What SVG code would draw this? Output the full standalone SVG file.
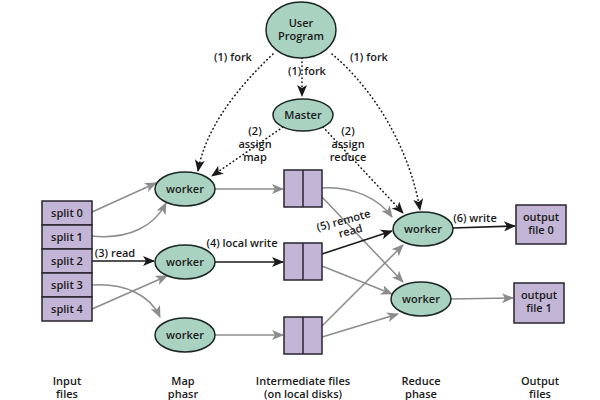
<svg xmlns="http://www.w3.org/2000/svg" width="600" height="400" viewBox="0 0 600 400">
<defs>
<style>
.n{fill:#a9d2c1;stroke:#1c2624;stroke-width:1.5}
.b{fill:#c3b5d6;stroke:#2a2530;stroke-width:1.5}
.t{font-family:"Open Sans","Liberation Sans",sans-serif;font-weight:600;font-size:11px;fill:#1a1a1a;text-anchor:middle}
.g{fill:none;stroke:#8c8c8c;stroke-width:1.5}
.k{fill:none;stroke:#1a1a1a;stroke-width:1.6}
.d{fill:none;stroke:#1a1a1a;stroke-width:1.6;stroke-dasharray:0.5 3.5;stroke-linecap:round}
</style>
<marker id="ag" viewBox="0 0 12 10" refX="11" refY="5" markerWidth="12" markerHeight="10" markerUnits="userSpaceOnUse" orient="auto"><path d="M0,0 L12,5 L0,10 L3,5 z" fill="#8c8c8c"/></marker>
<marker id="ak" viewBox="0 0 12 10" refX="11" refY="5" markerWidth="13" markerHeight="10" markerUnits="userSpaceOnUse" orient="auto"><path d="M0,0 L12,5 L0,10 L3,5 z" fill="#1a1a1a"/></marker>
</defs>
<rect width="600" height="400" fill="#ffffff"/>

<g id="connectors">
<path class="d" d="M302,58 L302,96" marker-end="url(#ak)"/>
<path class="d" d="M273,54 C235,90 205,130 198,171" marker-end="url(#ak)"/>
<path class="d" d="M332,54 C375,90 410,150 420,210" marker-end="url(#ak)"/>
<path class="d" d="M283,127 L212,176" marker-end="url(#ak)"/>
<path class="d" d="M323,127 L403,213" marker-end="url(#ak)"/>

<path class="g" d="M92,212 L156,183" marker-end="url(#ag)"/>
<path class="g" d="M92,236 C130,240 155,225 166,203" marker-end="url(#ag)"/>
<path class="k" d="M92,261 L154,261" marker-end="url(#ak)"/>
<path class="g" d="M92,285 C125,283 150,295 160,317" marker-end="url(#ag)"/>
<path class="g" d="M92,309 L167,276" marker-end="url(#ag)"/>

<path class="g" d="M215,189 L283,189" marker-end="url(#ag)"/>
<path class="k" d="M215,262 L283,262" marker-end="url(#ak)"/>
<path class="g" d="M214,335 L283,335" marker-end="url(#ag)"/>

<path class="g" d="M322,188 C355,186 380,200 392,217" marker-end="url(#ag)"/>
<path class="g" d="M322,197 L403,282" marker-end="url(#ag)"/>
<path class="k" d="M322,254 L392,231" marker-end="url(#ak)"/>
<path class="g" d="M322,266 L392,294" marker-end="url(#ag)"/>
<path class="g" d="M322,326 L403,245" marker-end="url(#ag)"/>
<path class="g" d="M322,337 L398,314" marker-end="url(#ag)"/>

<path class="k" d="M453,228 L515,226" marker-end="url(#ak)"/>
<path class="g" d="M451,299 L513,298" marker-end="url(#ag)"/>
</g>

<g id="labels">
<text class="t" x="233" y="61">(1) fork</text>
<text class="t" x="369" y="61">(1) fork</text>
<text class="t" x="307" y="75">(1) fork</text>
<text class="t" x="255" y="135">(2)</text>
<text class="t" x="255" y="148">assign</text>
<text class="t" x="255" y="161">map</text>
<text class="t" x="348" y="135">(2)</text>
<text class="t" x="348" y="148">assign</text>
<text class="t" x="348" y="161">reduce</text>
<text class="t" x="115" y="257">(3) read</text>
<text class="t" x="242" y="247">(4) local write</text>
<g transform="rotate(-15 345 226)"><text class="t" x="345" y="224">(5) remote</text><text class="t" x="349" y="236">read</text></g>
<text class="t" x="475" y="222">(6) write</text>
</g>

<g id="user-program"><ellipse class="n" cx="301" cy="30" rx="35" ry="28"/><text class="t" x="301" y="27">User</text><text class="t" x="301" y="40">Program</text></g>
<g id="master"><ellipse class="n" cx="303" cy="115" rx="30" ry="16"/><text class="t" x="303" y="119">Master</text></g>

<g id="splits">
<rect class="b" x="42" y="201" width="50" height="24"/><text class="t" x="67" y="217">split 0</text>
<rect class="b" x="42" y="225" width="50" height="24"/><text class="t" x="67" y="241">split 1</text>
<rect class="b" x="42" y="249" width="50" height="24"/><text class="t" x="67" y="265">split 2</text>
<rect class="b" x="42" y="273" width="50" height="24"/><text class="t" x="67" y="289">split 3</text>
<rect class="b" x="42" y="297" width="50" height="24"/><text class="t" x="67" y="313">split 4</text>
</g>

<g id="map-worker-1"><ellipse class="n" cx="185" cy="189" rx="30" ry="17"/><text class="t" x="185" y="193">worker</text></g>
<g id="map-worker-2"><ellipse class="n" cx="185" cy="262" rx="30" ry="17"/><text class="t" x="185" y="266">worker</text></g>
<g id="map-worker-3"><ellipse class="n" cx="185" cy="335" rx="30" ry="17"/><text class="t" x="185" y="339">worker</text></g>

<g id="inter-1"><rect class="b" x="284" y="170" width="38" height="37"/><line x1="303" y1="170" x2="303" y2="207" stroke="#2a2530" stroke-width="1.5"/></g>
<g id="inter-2"><rect class="b" x="284" y="243" width="38" height="37"/><line x1="303" y1="243" x2="303" y2="280" stroke="#2a2530" stroke-width="1.5"/></g>
<g id="inter-3"><rect class="b" x="284" y="317" width="38" height="37"/><line x1="303" y1="317" x2="303" y2="354" stroke="#2a2530" stroke-width="1.5"/></g>

<g id="reduce-worker-1"><ellipse class="n" cx="423" cy="229" rx="30" ry="17"/><text class="t" x="423" y="233">worker</text></g>
<g id="reduce-worker-2"><ellipse class="n" cx="421" cy="299" rx="30" ry="17"/><text class="t" x="421" y="303">worker</text></g>

<g id="output-0"><rect class="b" x="516" y="205" width="50" height="39"/><text class="t" x="541" y="221">output</text><text class="t" x="541" y="234">file 0</text></g>
<g id="output-1"><rect class="b" x="514" y="283" width="50" height="40"/><text class="t" x="539" y="299">output</text><text class="t" x="539" y="312">file 1</text></g>

<g id="footer">
<text class="t" x="67" y="385">Input</text><text class="t" x="67" y="398">files</text>
<text class="t" x="183" y="385">Map</text><text class="t" x="183" y="398">phasr</text>
<text class="t" x="303" y="385">Intermediate files</text><text class="t" x="303" y="398">(on local disks)</text>
<text class="t" x="421" y="385">Reduce</text><text class="t" x="421" y="398">phase</text>
<text class="t" x="540" y="385">Output</text><text class="t" x="540" y="398">files</text>
</g>
</svg>
